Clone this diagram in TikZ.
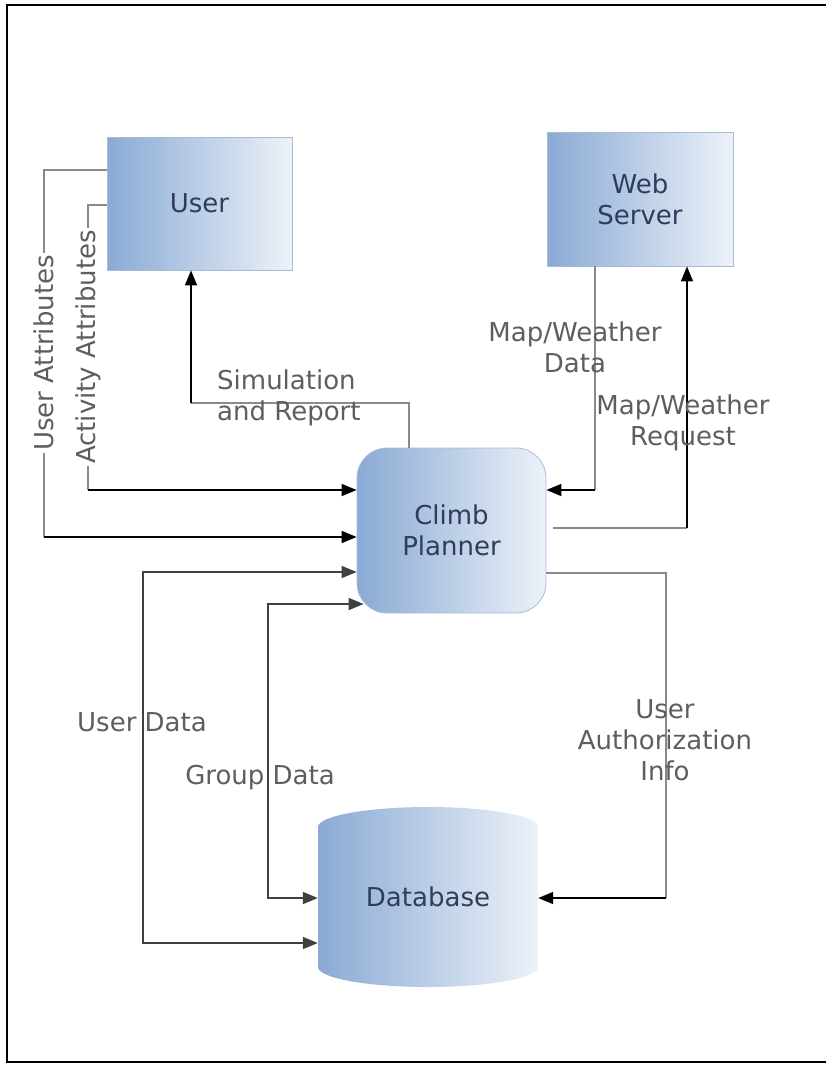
\documentclass[tikz,border=0pt]{standalone}
\usepackage{fontspec}
\setmainfont{DejaVu Sans}
\usepackage{xcolor}
\usetikzlibrary{calc,arrows.meta}
\definecolor{boxl}{HTML}{8AAAD4}
\definecolor{boxr}{HTML}{EDF2F9}
\definecolor{boxline}{HTML}{A8BCD8}
\definecolor{boxtext}{HTML}{2F3D5A}
\definecolor{wiregray}{HTML}{8A8A8A}
\definecolor{labgray}{HTML}{5E5E5E}
\tikzset{
  frame/.style={draw=black, line width=2pt},
  entity/.style={rectangle, draw=boxline, line width=0.8pt, left color=boxl, right color=boxr,
    text=boxtext, font=\fontsize{26}{31}\selectfont, align=center},
  proc/.style={entity, rounded corners=30pt},
  wire/.style={draw=wiregray, line width=1.6pt},
  wireend/.style={draw=black, line width=1.6pt, -{Triangle[length=15pt,width=12pt]}},
  wireboth/.style={draw=black!75, line width=1.6pt, {Triangle[length=15pt,width=12pt]}-{Triangle[length=15pt,width=12pt]}},
  lab/.style={text=labgray, font=\fontsize{26}{31}\selectfont, align=center, inner sep=2pt},
}

\begin{document}
\begin{tikzpicture}[x=1pt,y=-1pt]
  \useasboundingbox (0,0) rectangle (826,1066);
  \fill[white] (0,0) rectangle (826,1066);
  \draw[frame] (826,5) -- (7,5) -- (7,1062) -- (826,1062);
  % entities
  \node[entity, minimum width=185pt, minimum height=133pt] (user) at (199.5,203.5) {User};
  \node[entity, minimum width=186pt, minimum height=134pt] (web) at (640,199) {Web\\Server};
  \node[proc, minimum width=189pt, minimum height=165pt] (cp) at (451.5,530.5) {Climb\\Planner};
  % database drum
  \shade[left color=boxl, right color=boxr] (318,827) arc[start angle=180, end angle=0, x radius=110pt, y radius=20pt]
    -- (538,967) arc[start angle=0, end angle=-180, x radius=110pt, y radius=20pt] -- cycle;
  \node[minimum width=220pt, minimum height=180pt, inner sep=0pt, text=boxtext, font=\fontsize{26}{31}\selectfont] (db) at (428,897) {Database};
  % user attributes
  \coordinate (ua1) at (44,170);
  \coordinate (ua2) at (44,537);
  \draw[wire] (user.west |- ua1) -- (ua1) -- (ua2);
  \draw[wireend] (ua2) -- (cp.west |- ua2);
  \node[lab, fill=white, rotate=90] at (44,353) {User Attributes};
  % activity attributes
  \coordinate (aa1) at (88,205);
  \coordinate (aa2) at (88,490);
  \draw[wire] (user.west |- aa1) -- (aa1) -- (aa2);
  \draw[wireend] (aa2) -- (cp.west |- aa2);
  \node[lab, fill=white, rotate=90] at (88,347) {Activity Attributes};
  % simulation and report
  \coordinate (sr1) at (409,403);
  \coordinate (sr2) at (191,403);
  \draw[wire] (cp.north -| sr1) -- (sr1) -- (sr2);
  \draw[wireend] (sr2) -- (user.south -| sr2);
  \node[lab, anchor=west, align=left] at (215,398) {Simulation\\and Report};
  % map/weather data
  \coordinate (md1) at (595,490);
  \draw[wire] (web.south -| md1) -- (md1);
  \draw[wireend] (md1) -- (cp.east |- md1);
  \node[lab] at (575,347) {Map/Weather\\Data};
  % map/weather request
  \coordinate (mr1) at (553,528);
  \coordinate (mr2) at (687,528);
  \draw[wire] (mr1) -- (mr2);
  \draw[wireend] (mr2) -- (web.south -| mr2);
  \node[lab] at (683,423) {Map/Weather\\Request};
  % user authorization info
  \coordinate (au1) at (666,573);
  \coordinate (au2) at (666,898);
  \draw[wire] (cp.east |- au1) -- (au1) -- (au2);
  \draw[wireend] (au2) -- (db.east |- au2);
  \node[lab] at (665,740) {User\\Authorization\\Info};
  % user data
  \coordinate (ud1) at (143,572);
  \coordinate (ud2) at (143,943);
  \draw[wireboth] (cp.west |- ud1) -- (ud1) -- (ud2) -- (db.west |- ud2);
  \node[lab] at (142,722) {User Data};
  % group data
  \coordinate (gd1) at (268,604);
  \coordinate (gd2) at (268,898);
  \draw[wireboth] ([xshift=7pt]cp.west |- gd1) -- (gd1) -- (gd2) -- (db.west |- gd2);
  \node[lab] at (260,778) {Group Data};
\end{tikzpicture}
\end{document}
